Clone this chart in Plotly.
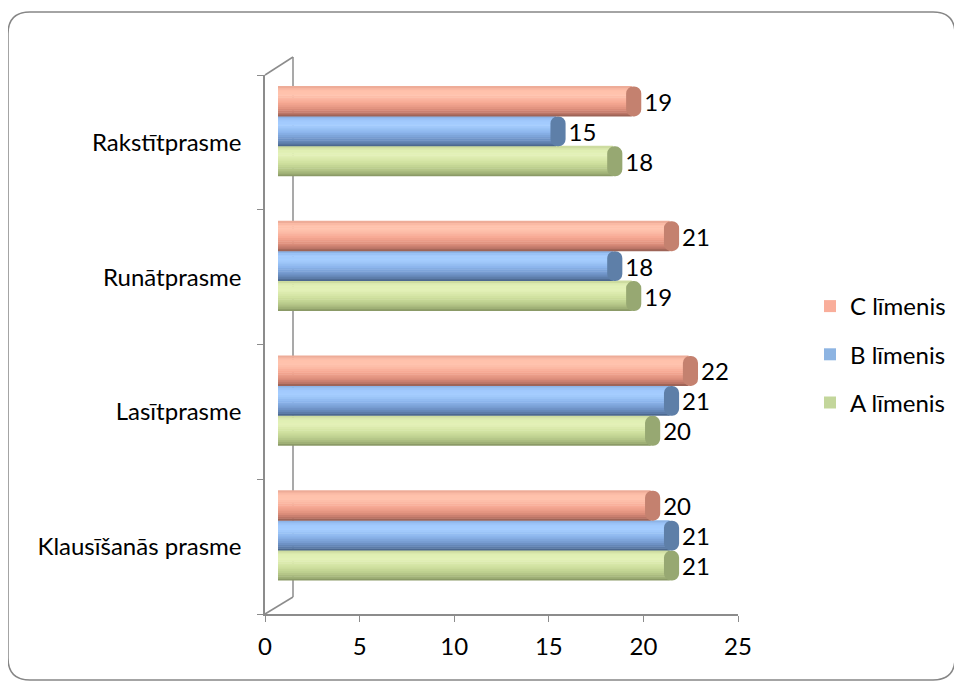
import plotly.graph_objects as go

# ---------------- data ----------------
categories = ["Klausīšanās prasme", "Lasītprasme", "Runātprasme", "Rakstītprasme"]
series_names = ["A līmenis", "B līmenis", "C līmenis"]
a_values = [21, 20, 19, 18]
b_values = [21, 21, 18, 15]
c_values = [20, 22, 21, 19]
x_ticks = [0, 5, 10, 15, 20, 25]

values_by_series = {"A līmenis": a_values, "B līmenis": b_values, "C līmenis": c_values}

# ---------------- styling ----------------
FONT = "Lato"
TXT = 24
legend_colors = {"A līmenis": "#C3D69B", "B līmenis": "#8DB4E2", "C līmenis": "#F9AE9B"}
# cylinder shading anchors (fraction of bar thickness from bottom, colour)
shade_anchors = {
    "C līmenis": [(0.0, "#8E5A4F"), (0.08, "#B87364"), (0.25, "#E0917E"), (0.45, "#F6A893"),
                  (0.7, "#FFC3AE"), (0.88, "#FFC0AA"), (1.0, "#E8A592")],
    "B līmenis": [(0.0, "#435C80"), (0.08, "#5A7AA6"), (0.25, "#7398CC"), (0.45, "#8AB3EA"),
                  (0.7, "#A6CEFF"), (0.88, "#A0C8FC"), (1.0, "#86ADDF")],
    "A līmenis": [(0.0, "#808E5E"), (0.08, "#9DAE74"), (0.25, "#BACC8C"), (0.45, "#D0E19F"),
                  (0.7, "#E3F1B8"), (0.88, "#DFEEB2"), (1.0, "#C6D69A")],
}
cap_colors = {"A līmenis": "#97A872", "B līmenis": "#5E7FA8", "C līmenis": "#C4816F"}
group_offsets = {"A līmenis": -0.333, "B līmenis": -0.111, "C līmenis": 0.111}
BAR_W = 0.222
N_BANDS = 16
CAP_BACK, CAP_FWD = 0.6, 0.2   # cap extent around the value end (axis units)

# plot-area geometry in reference pixels; the page adds an 8px body margin
PAGE = 8
L, R, T, B = 265, 752, 64, 614
W, H = R - L, B - T
DX, DY = 13, 11  # depth offset of the bar plane


def px(x):
    return (x - L) / W


def py(y):
    return (B - y) / H


def hex2rgb(h):
    h = h.lstrip("#")
    return [int(h[i:i + 2], 16) for i in (0, 2, 4)]


def shade_at(anchors, f):
    for (f0, c0), (f1, c1) in zip(anchors[:-1], anchors[1:]):
        if f0 <= f <= f1:
            t = (f - f0) / (f1 - f0) if f1 > f0 else 0
            a, b = hex2rgb(c0), hex2rgb(c1)
            return "rgb(%d,%d,%d)" % tuple(round(a[k] + (b[k] - a[k]) * t) for k in range(3))
    return anchors[-1][1]


fig = go.Figure()
for name in series_names:
    vals = values_by_series[name]
    off = group_offsets[name]
    body_len = [v - 0.3 for v in vals]
    for i in range(N_BANDS):
        f0, f1 = i / N_BANDS, (i + 1) / N_BANDS
        col = shade_at(shade_anchors[name], (f0 + f1) / 2)
        fig.add_trace(go.Bar(
            y=categories, x=body_len, orientation="h", name=name,
            xaxis="x2", yaxis="y2",
            width=(f1 - f0) * BAR_W + 0.004, offset=off + f0 * BAR_W,
            marker=dict(color=col, line=dict(width=0)),
            hoverinfo="skip", showlegend=False,
        ))
    # rounded end cap carrying the value label
    fig.add_trace(go.Bar(
        y=categories, x=[CAP_BACK + CAP_FWD] * len(vals),
        base=[v - CAP_BACK for v in vals], orientation="h", name=name,
        xaxis="x2", yaxis="y2",
        width=BAR_W, offset=off,
        marker=dict(color=cap_colors[name], line=dict(width=0), cornerradius=9),
        text=[str(v) for v in vals], textposition="outside",
        textfont=dict(family=FONT, size=TXT, color="#000000"),
        customdata=vals, hovertemplate="%{y}: %{customdata}<extra>" + name + "</extra>",
        cliponaxis=False, showlegend=False,
    ))

# legend entries (top to bottom: C, B, A)
for name in ["C līmenis", "B līmenis", "A līmenis"]:
    fig.add_trace(go.Bar(
        y=[None], x=[None], orientation="h", name=name,
        marker=dict(color=legend_colors[name], line=dict(width=0)),
        legendgroup=name, showlegend=True, xaxis="x", yaxis="y",
    ))

front_w = (738 - L) / W
front_h = (614 - 75) / H

axis_gray = "#8C8C8C"
fig.update_layout(
    width=962, height=684,
    margin=dict(l=L - PAGE, r=962 - (R - PAGE), t=T - PAGE, b=684 - (B - PAGE)),
    paper_bgcolor="white", plot_bgcolor="rgba(0,0,0,0)",
    barmode="overlay",
    font=dict(family=FONT, size=TXT, color="#000000"),
    xaxis=dict(domain=[0, front_w], range=[0, 25], tickvals=x_ticks,
               showgrid=False, zeroline=False, showline=True, linecolor=axis_gray,
               linewidth=1.5, ticks="outside", ticklen=6, tickcolor=axis_gray,
               tickfont=dict(family=FONT, size=TXT), ticklabelstandoff=4, anchor="y"),
    yaxis=dict(domain=[0, front_h], type="category", categoryorder="array",
               categoryarray=categories, range=[-0.5, 3.5],
               showgrid=False, zeroline=False, showline=True, linecolor=axis_gray,
               linewidth=1.5, ticks="outside", ticklen=6, tickcolor=axis_gray,
               tickson="boundaries", tickfont=dict(family=FONT, size=TXT),
               ticklabelstandoff=17, anchor="x"),
    xaxis2=dict(domain=[DX / W, DX / W + front_w], range=[0, 25], visible=False,
                anchor="y2", showgrid=False, zeroline=False),
    yaxis2=dict(domain=[DY / H, DY / H + front_h], type="category", categoryorder="array",
                categoryarray=categories, range=[-0.5, 3.5], visible=False,
                anchor="x2", showgrid=False, zeroline=False),
    legend=dict(x=px(810), y=py(284), xanchor="left", yanchor="top",
                traceorder="grouped", tracegroupgap=14,
                font=dict(family=FONT, size=TXT), bgcolor="rgba(0,0,0,0)"),
    showlegend=True,
)

# 3-D frame decorations (back wall edge and depth diagonals), behind the bars
shapes = [
    dict(type="line", xref="paper", yref="paper", x0=px(265), y0=py(75), x1=px(293), y1=py(57),
         line=dict(color=axis_gray, width=1.5), layer="below"),
    dict(type="line", xref="paper", yref="paper", x0=px(293), y0=py(57), x1=px(293), y1=py(597),
         line=dict(color=axis_gray, width=1.5), layer="below"),
    dict(type="line", xref="paper", yref="paper", x0=px(265), y0=py(614), x1=px(293), y1=py(597),
         line=dict(color=axis_gray, width=1.5), layer="below"),
]

# outer rounded chart border
x0, y0, x1, y1, r = 8, 12, 955, 680, 22
p = (f"M {px(x0 + r)},{py(y0)} L {px(x1 - r)},{py(y0)} Q {px(x1)},{py(y0)} {px(x1)},{py(y0 + r)} "
     f"L {px(x1)},{py(y1 - r)} Q {px(x1)},{py(y1)} {px(x1 - r)},{py(y1)} "
     f"L {px(x0 + r)},{py(y1)} Q {px(x0)},{py(y1)} {px(x0)},{py(y1 - r)} "
     f"L {px(x0)},{py(y0 + r)} Q {px(x0)},{py(y0)} {px(x0 + r)},{py(y0)} Z")
shapes.append(dict(type="path", xref="paper", yref="paper", path=p,
                   line=dict(color="#868686", width=1.5), layer="below"))
fig.update_layout(shapes=shapes)

fig.write_html("out.html")
